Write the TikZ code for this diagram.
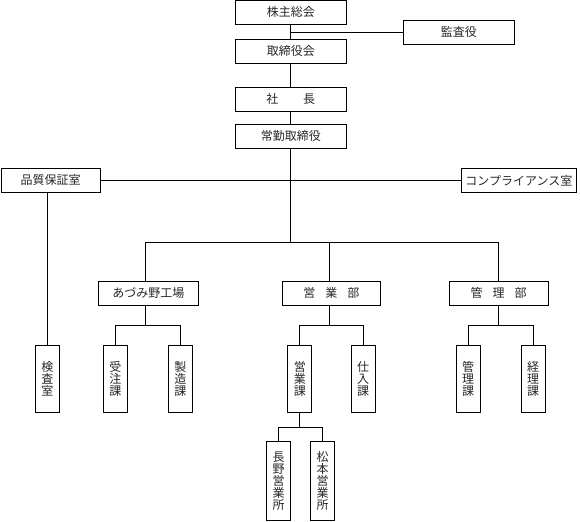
\documentclass[tikz,border=0pt]{standalone}
\usepackage{fontspec}
\newfontfamily\jpfont{Noto Sans CJK JP}
\newdimen\pxu \pxu=0.75pt
\begin{document}
\begin{tikzpicture}[x=0.75pt,y=-0.75pt,line width=0.6pt,
  box/.style={draw, inner sep=0pt, font=\jpfont\fontsize{9pt}{9pt}\selectfont, text=black!85},
  hbox/.style={box, minimum height=24\pxu},
  vbox/.style={box, minimum width=24\pxu, align=center},
  conn/.style={draw, line width=0.6pt}]
\useasboundingbox (0,0) rectangle (580,521);
% top column
\node[hbox, minimum width=111.7\pxu] (kabu) at (290.8,12.4) {株主総会};
\node[hbox, minimum width=111.8\pxu] (kansa) at (458.9,32.3) {監査役};
\node[hbox, minimum width=111.7\pxu] (tori) at (290.8,51.3) {取締役会};
\node[hbox, minimum width=111.7\pxu] (shacho) at (290.8,99.3) {社\hspace{18.5pt}長};
\node[hbox, minimum width=111.7\pxu] (jokin) at (290.8,136.3) {常勤取締役};
% staff
\node[hbox, minimum width=99.3\pxu] (hin) at (50.7,180.3) {品質保証室};
\node[hbox, minimum width=115.7\pxu] (comp) at (518.9,180.3) {コンプライアンス室};
% departments
\node[hbox, minimum width=99.6\pxu] (azu) at (148.3,293.3) {あづみ野工場};
\node[hbox, minimum width=98.8\pxu] (eibu) at (331.3,293.3) {営\hspace{7.5pt}業\hspace{7.5pt}部};
\node[hbox, minimum width=99.2\pxu] (kanbu) at (498.5,293.3) {管\hspace{7.5pt}理\hspace{7.5pt}部};
% sections
\node[vbox, minimum height=67\pxu] (kensa) at (47.3,378.8) {検\\査\\室};
\node[vbox, minimum height=67\pxu] (juchu) at (115.3,378.8) {受\\注\\課};
\node[vbox, minimum height=67\pxu] (seizo) at (180.3,378.8) {製\\造\\課};
\node[vbox, minimum height=67\pxu] (eika) at (299.8,378.8) {営\\業\\課};
\node[vbox, minimum height=67\pxu] (shiire) at (363,378.8) {仕\\入\\課};
\node[vbox, minimum height=67\pxu] (kanka) at (468.1,378.8) {管\\理\\課};
\node[vbox, minimum height=67\pxu] (keiri) at (533.1,378.8) {経\\理\\課};
% offices
\node[vbox, minimum height=79\pxu] (nagano) at (278.5,480.8) {長\\野\\営\\業\\所};
\node[vbox, minimum height=79\pxu] (matsu) at (322.6,480.8) {松\\本\\営\\業\\所};
% junctions
\coordinate (j1) at (290.8,32.3);
\coordinate (bar) at (290.8,242.3);
\coordinate (bL) at (145.5,242.3);
\coordinate (bM) at (329.5,242.3);
\coordinate (bR) at (498,242.3);
\coordinate (azuJ) at (145.5,325.3);
\coordinate (eiJ) at (329.5,325.3);
\coordinate (kanJ) at (498,325.3);
\coordinate (eikaJ) at (299.3,427.5);
% connectors
\draw[conn] (kabu) -- (tori);
\draw[conn] (j1) -- (kansa.west);
\draw[conn] (tori) -- (shacho);
\draw[conn] (shacho) -- (jokin);
\draw[conn] (jokin) -- (bar);
\draw[conn] (hin.east) -- (comp.west);
\draw[conn] (kensa.north) -- (kensa.north |- hin.south);
\draw[conn] (bL) -- (bR);
\draw[conn] (bL) -- (bL |- azu.north);
\draw[conn] (bM) -- (bM |- eibu.north);
\draw[conn] (bR) -- (bR |- kanbu.north);
\draw[conn] (azuJ |- azu.south) -- (azuJ);
\draw[conn] (juchu.north) |- (azuJ) -| (seizo.north);
\draw[conn] (eiJ |- eibu.south) -- (eiJ);
\draw[conn] (eika.north) |- (eiJ) -| (shiire.north);
\draw[conn] (kanJ |- kanbu.south) -- (kanJ);
\draw[conn] (kanka.north) |- (kanJ) -| (keiri.north);
\draw[conn] (eikaJ |- eika.south) -- (eikaJ);
\draw[conn] (nagano.north) |- (eikaJ) -| (matsu.north);
\end{tikzpicture}
\end{document}
